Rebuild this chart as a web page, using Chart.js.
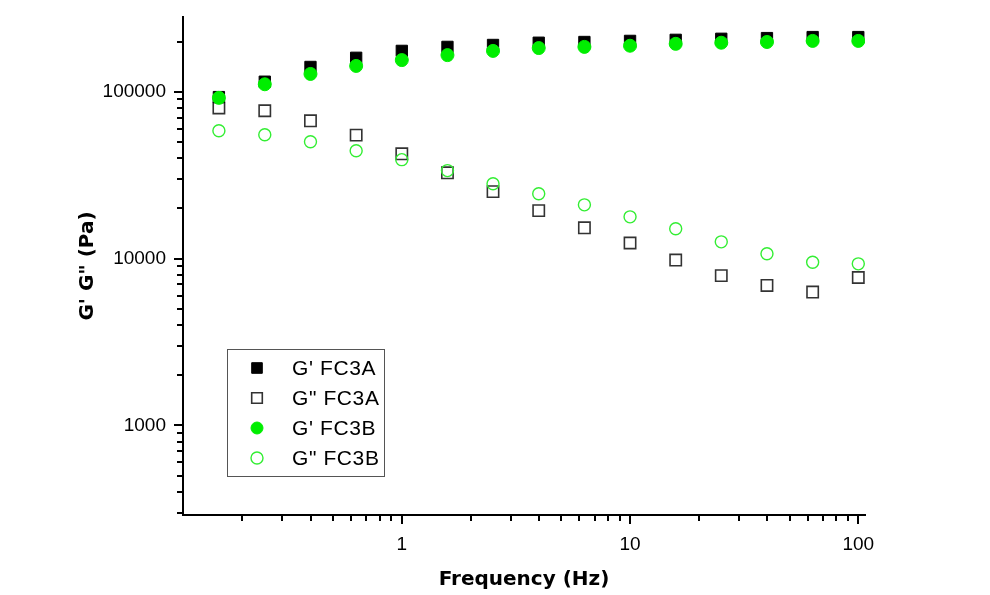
<!DOCTYPE html>
<html>
<head>
<meta charset="utf-8">
<script src="https://cdn.jsdelivr.net/npm/chart.js@4.4.0/dist/chart.umd.min.js"></script>
<style>
  html, body { margin: 0; padding: 0; background: #fff; }
  #wrap { width: 990px; height: 595px; }
</style>
</head>
<body>
<div id="wrap"><canvas id="chart" width="990" height="595"></canvas></div>
<script>
// frequencies (Hz)
const freq = [0.158, 0.251, 0.398, 0.631, 1, 1.585, 2.51, 3.98, 6.31, 10, 15.85, 25.1, 39.8, 63.1, 100];

// moduli (Pa)
const gPrimeA = [93000, 115000, 141000, 160000, 176000, 186000, 191000, 197000, 199000, 202000, 205000, 208000, 210000, 213000, 213000];
const gDoubleA = [80000, 77000, 67000, 55000, 42500, 32700, 25200, 19400, 15300, 12400, 9800, 7900, 6900, 6300, 7700];
const gPrimeB = [92000, 111000, 128000, 143000, 155000, 166000, 176000, 183000, 186000, 189000, 194000, 197000, 199000, 202000, 202000];
const gDoubleB = [58400, 55300, 50200, 44300, 39200, 33700, 28100, 24500, 21000, 17800, 15100, 12600, 10700, 9500, 9300];

const seriesLabels = ["G' FC3A", 'G" FC3A', "G' FC3B", 'G" FC3B'];

const GREEN = '#00ee00';

function pts(ys) {
  return freq.map((f, i) => ({ x: f, y: ys[i] }));
}

// log ticks: every 1..9 x 10^n inside the range, labels only on decades
function logTicks(scale) {
  const ticks = [];
  const lo = Math.floor(Math.log10(scale.min));
  const hi = Math.ceil(Math.log10(scale.max));
  for (let e = lo; e <= hi; e++) {
    for (let m = 1; m < 10; m++) {
      const v = m * Math.pow(10, e);
      if (v >= scale.min && v <= scale.max) ticks.push({ value: v, major: m === 1 });
    }
  }
  scale.ticks = ticks;
}

function decadeLabel(v) {
  const l = Math.log10(v);
  return Math.abs(l - Math.round(l)) < 1e-9 ? String(Math.round(v)) : '';
}

// outward tick marks on both axes
const tickMarks = {
  id: 'tickMarks',
  afterDraw(chart) {
    const ctx = chart.ctx;
    const area = chart.chartArea;
    ctx.save();
    ctx.strokeStyle = '#000';
    ctx.lineWidth = 2;
    const xs = chart.scales.x;
    xs.ticks.forEach(t => {
      const px = Math.round(xs.getPixelForValue(t.value));
      const len = t.major ? 9 : 6;
      ctx.beginPath();
      ctx.moveTo(px, area.bottom);
      ctx.lineTo(px, area.bottom + len);
      ctx.stroke();
    });
    const ys = chart.scales.y;
    ys.ticks.forEach(t => {
      const py = Math.round(ys.getPixelForValue(t.value));
      const len = t.major ? 9 : 6;
      ctx.beginPath();
      ctx.moveTo(area.left, py);
      ctx.lineTo(area.left - len, py);
      ctx.stroke();
    });
    ctx.restore();
  }
};

// boxed legend inside the plot
const boxLegend = {
  id: 'boxLegend',
  afterDraw(chart) {
    const ctx = chart.ctx;
    const left = 227, top = 349, w = 157, h = 127;
    ctx.save();
    ctx.strokeStyle = '#555';
    ctx.lineWidth = 1;
    ctx.strokeRect(left + 0.5, top + 0.5, w, h);
    ctx.font = '21px "Liberation Sans", Arial, sans-serif';
    ctx.letterSpacing = '0.6px';
    ctx.textBaseline = 'middle';
    ctx.fillStyle = '#000';
    const rowY = [368, 398, 428, 458];
    chart.data.datasets.forEach((ds, i) => {
      const y = rowY[i];
      ctx.fillStyle = ds.pointBackgroundColor;
      ctx.strokeStyle = ds.pointBorderColor;
      ctx.lineWidth = ds.pointBorderWidth;
      const r = ds.pointStyle === 'rect' ? 7.5 : 6;
      Chart.helpers.drawPoint(ctx, { pointStyle: ds.pointStyle, radius: r, borderWidth: ds.pointBorderWidth, rotation: 0 }, 257, y);
      ctx.fillStyle = '#000';
      ctx.fillText(seriesLabels[i], 292, y + 1);
    });
    ctx.restore();
  }
};

const tickFont = { family: '"Liberation Sans", Arial, sans-serif', size: 19 };
const titleFont = { family: '"DejaVu Sans", Verdana, sans-serif', size: 20, weight: 'bold' };

const config = {
  type: 'scatter',
  data: {
    datasets: [
      {
        label: seriesLabels[0], data: pts(gPrimeA), order: 1,
        pointStyle: 'rect', pointRadius: 8, pointBackgroundColor: '#000', pointBorderColor: '#000', pointBorderWidth: 1
      },
      {
        label: seriesLabels[1], data: pts(gDoubleA), order: 1,
        pointStyle: 'rect', pointRadius: 8, pointBackgroundColor: 'rgba(255,255,255,0)', pointBorderColor: '#333', pointBorderWidth: 1.6
      },
      {
        label: seriesLabels[2], data: pts(gPrimeB), order: 0,
        pointStyle: 'circle', pointRadius: 6.5, pointBackgroundColor: GREEN, pointBorderColor: GREEN, pointBorderWidth: 1
      },
      {
        label: seriesLabels[3], data: pts(gDoubleB), order: 0,
        pointStyle: 'circle', pointRadius: 6, pointBackgroundColor: 'rgba(255,255,255,0)', pointBorderColor: '#33ee33', pointBorderWidth: 1.4
      }
    ]
  },
  options: {
    responsive: false,
    animation: false,
    layout: { padding: { left: 0, top: 17, right: 125, bottom: 0 } },
    plugins: {
      legend: { display: false },
      tooltip: { enabled: false }
    },
    scales: {
      x: {
        type: 'logarithmic',
        min: 0.11,
        max: 107,
        afterBuildTicks: logTicks,
        afterFit(scale) {
          scale.height = 80;
          scale.paddingLeft = 0;
          scale.paddingRight = 0;
        },
        grid: { display: false, drawTicks: false, tickLength: 0 },
        border: { display: true, color: '#000', width: 2 },
        ticks: {
          autoSkip: false, maxRotation: 0, padding: 18,
          color: '#000', font: tickFont,
          callback: decadeLabel
        },
        title: { display: true, text: 'Frequency (Hz)', color: '#000', font: titleFont, padding: { top: 0, bottom: 3 } }
      },
      y: {
        type: 'logarithmic',
        min: 290,
        max: 281000,
        afterBuildTicks: logTicks,
        afterFit(scale) {
          scale.width = 183;
          scale.paddingTop = 0;
          scale.paddingBottom = 0;
        },
        grid: { display: false, drawTicks: false, tickLength: 0 },
        border: { display: true, color: '#000', width: 2 },
        ticks: {
          autoSkip: false, padding: 17,
          color: '#000', font: tickFont,
          callback: decadeLabel
        },
        title: { display: true, text: 'G\' G" (Pa)', color: '#000', font: titleFont, padding: { top: 76, bottom: 0 } }
      }
    }
  },
  plugins: [tickMarks, boxLegend]
};

function renderChart() {
  const canvas = document.getElementById('chart');
  new Chart(canvas, config);
}

renderChart();
</script>
</body>
</html>
